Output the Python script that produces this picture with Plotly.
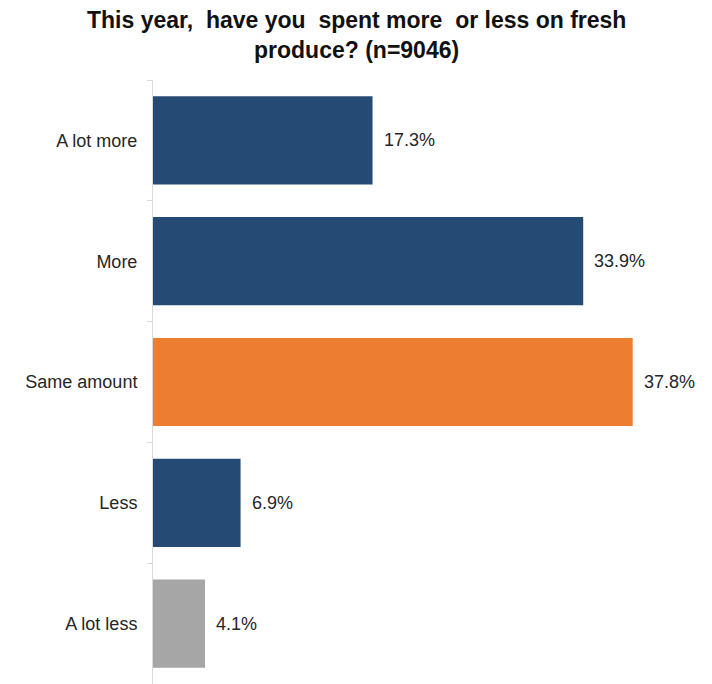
import plotly.graph_objects as go

# Survey responses (percent of n=9046)
categories = ["A lot more", "More", "Same amount", "Less", "A lot less"]
values = [17.3, 33.9, 37.8, 6.9, 4.1]
bar_colors = ["#254B75", "#254B75", "#ED7D31", "#254B75", "#A6A6A6"]
value_labels = [f"{v:.1f}%" for v in values]
title_lines = [
    "This year,  have you  spent more  or less on fresh",
    "produce? (n=9046)",
]

FONT = "Liberation Sans, Arial, sans-serif"
W, H = 712, 684
LEFT, RIGHT, TOP = 153, 26, 80
PLOT_W, PLOT_H = W - LEFT - RIGHT, H - TOP

fig = go.Figure(
    go.Bar(
        x=values,
        y=categories,
        orientation="h",
        marker=dict(color=bar_colors, line=dict(width=0)),
        width=0.73,
        hoverinfo="x+y",
    )
)

# Percent labels to the right of each bar
for cat, v, lab in zip(categories, values, value_labels):
    fig.add_annotation(
        x=v, y=cat, xref="x", yref="y",
        text=lab, showarrow=False,
        xanchor="left", yanchor="middle", xshift=9,
        font=dict(family=FONT, size=18, color="#262626"),
    )

# Two-line bold title, centred on the whole page
title_x = (W / 2 - LEFT) / PLOT_W
for i, line in enumerate(title_lines):
    offset_px = 60 - 30 * i
    fig.add_annotation(
        x=title_x, xref="paper",
        y=1 + offset_px / PLOT_H, yref="paper",
        xanchor="center", yanchor="middle",
        text=f"<b>{line}</b>", showarrow=False,
        font=dict(family=FONT, size=23, color="#111111"),
    )

fig.update_layout(
    width=W,
    height=H,
    margin=dict(l=LEFT, r=RIGHT, t=TOP, b=0),
    paper_bgcolor="white",
    plot_bgcolor="white",
    showlegend=False,
    xaxis=dict(
        range=[0, 42],
        visible=False,
        showgrid=False,
        zeroline=False,
    ),
    yaxis=dict(
        autorange="reversed",
        showline=True,
        linecolor="#D9D9D9",
        linewidth=1,
        ticks="outside",
        tickson="boundaries",
        ticklen=5,
        tickcolor="#D9D9D9",
        ticklabelstandoff=11,
        showgrid=False,
        tickfont=dict(family=FONT, size=18, color="#262626"),
    ),
)

fig.write_html("out.html")
